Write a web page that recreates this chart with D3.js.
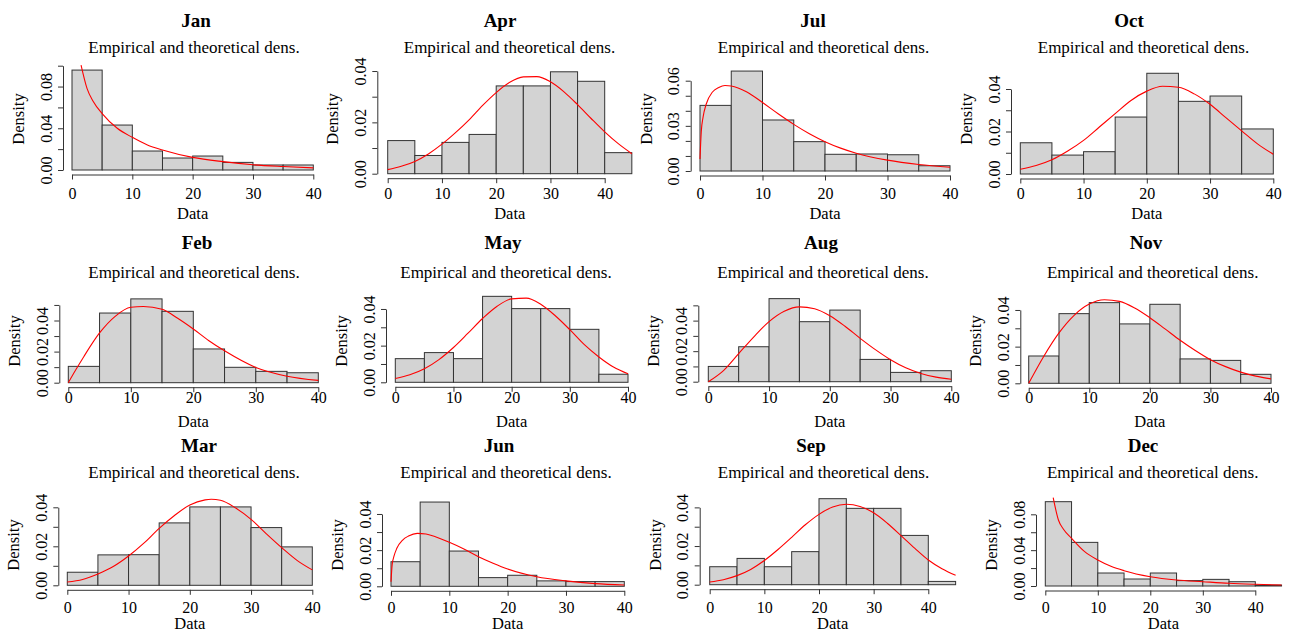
<!DOCTYPE html>
<html>
<head>
<meta charset="utf-8">
<script src="https://cdn.jsdelivr.net/npm/d3@7"></script>
<style>
  body { margin: 0; background: #fff; }
  svg text { font-family: "Liberation Serif", "Times New Roman", serif; fill: #000; }
</style>
</head>
<body>
<div id="chart"></div>
<script>
// months, laid out column by column (Jan Feb Mar | Apr May Jun | ...)
var months = ["Jan", "Feb", "Mar", "Apr", "May", "Jun", "Jul", "Aug", "Sep", "Oct", "Nov", "Dec"];
var breaks = [0, 5, 10, 15, 20, 25, 30, 35, 40, 45];
var xTicks = [0, 10, 20, 30, 40];

// histogram densities, one value per 5-wide bin
var densJan = [0.0958, 0.0431, 0.0182, 0.0115, 0.0134, 0.0073, 0.0048, 0.0048];
var densFeb = [0.0105, 0.0448, 0.0539, 0.0459, 0.0217, 0.0099, 0.0073, 0.0064];
var densMar = [0.0067, 0.0156, 0.0157, 0.0320, 0.0402, 0.0402, 0.0296, 0.0197];
var densApr = [0.0129, 0.0071, 0.0122, 0.0153, 0.0342, 0.0342, 0.0397, 0.0360, 0.0082];
var densMay = [0.0129, 0.0162, 0.0129, 0.0469, 0.0402, 0.0402, 0.0289, 0.0044];
var densJun = [0.0136, 0.0466, 0.0195, 0.0048, 0.0061, 0.0030, 0.0026, 0.0026];
var densJul = [0.0436, 0.0664, 0.0339, 0.0195, 0.0111, 0.0113, 0.0108, 0.0035];
var densAug = [0.0100, 0.0229, 0.0544, 0.0393, 0.0469, 0.0146, 0.0061, 0.0072];
var densSep = [0.0093, 0.0136, 0.0093, 0.0171, 0.0445, 0.0395, 0.0395, 0.0255, 0.0017];
var densOct = [0.0147, 0.0089, 0.0105, 0.0268, 0.0474, 0.0342, 0.0367, 0.0212];
var densNov = [0.0149, 0.0380, 0.0440, 0.0324, 0.0431, 0.0133, 0.0125, 0.0049];
var densDec = [0.0941, 0.0487, 0.0145, 0.0078, 0.0145, 0.0060, 0.0074, 0.0048, 0.0010];

// theoretical density curves, [x, density]
var curveJan = [[1.5, 0.1006], [2.5, 0.078], [3.5, 0.066], [5, 0.054], [7.5, 0.040], [10, 0.0313], [12.5, 0.024],
  [15, 0.0192], [20, 0.0121], [25, 0.008], [30, 0.005], [35, 0.0033], [40, 0.002]];
var curveFeb = [[0, 0], [1.2, 0.0083], [2.5, 0.0169], [5, 0.032], [7.5, 0.0427], [10, 0.0485], [12, 0.049],
  [15, 0.0472], [17.5, 0.0414], [20, 0.0345], [22.5, 0.027], [25, 0.0205], [30, 0.0098], [35, 0.0042], [40, 0.0015]];
var curveMar = [[0, 0.0017], [2.5, 0.003], [5, 0.0058], [7.5, 0.0096], [10, 0.015], [12.5, 0.0216], [15, 0.0292],
  [17.5, 0.0358], [20, 0.0412], [22.5, 0.0438], [23.5, 0.0441], [25, 0.0436], [27.5, 0.0396], [30, 0.0338],
  [32.5, 0.0264], [35, 0.0193], [37.5, 0.0128], [40, 0.0079]];
var curveApr = [[0, 0.0016], [2.5, 0.0029], [5, 0.0048], [7.5, 0.0077], [10, 0.0115], [12.5, 0.016], [15, 0.021],
  [17.5, 0.0266], [20, 0.0316], [22.5, 0.0356], [25, 0.0377], [27.5, 0.0378], [30, 0.0358], [32.5, 0.0319],
  [35, 0.0269], [37.5, 0.0215], [40, 0.0163], [42.5, 0.0117], [45, 0.0078]];
var curveMay = [[0, 0.0021], [2.5, 0.0041], [5, 0.0074], [7.5, 0.0124], [10, 0.019], [12.5, 0.0268], [15, 0.0348],
  [17.5, 0.0415], [20, 0.0455], [22.5, 0.0459], [25, 0.0426], [27.5, 0.0363], [30, 0.0287], [32.5, 0.0205],
  [35, 0.0138], [37.5, 0.0083], [40, 0.0046]];
var curveJun = [[0, 0.0025], [0.2, 0.012], [0.5, 0.0165], [1, 0.021], [2, 0.0256], [3, 0.0278], [4.5, 0.0293],
  [6, 0.0289], [7.5, 0.0275], [10, 0.0243], [12.5, 0.0206], [15, 0.0164], [17.5, 0.0128], [20, 0.0096],
  [25, 0.0053], [30, 0.003], [35, 0.0015], [40, 0.0007]];
var curveJul = [[0, 0.008], [0.2, 0.026], [0.5, 0.036], [1, 0.0445], [2, 0.0525], [3, 0.0555], [4, 0.0568],
  [5, 0.0565], [7.5, 0.0525], [10, 0.0455], [12.5, 0.038], [15, 0.031], [17.5, 0.0248], [20, 0.0195],
  [22.5, 0.0152], [25, 0.0118], [30, 0.0072], [35, 0.0043], [40, 0.0025]];
var curveAug = [[0, 0], [2.5, 0.0073], [5, 0.0184], [7.5, 0.0294], [10, 0.0393], [12.5, 0.0461], [15, 0.049],
  [17.5, 0.0478], [20, 0.0432], [22.5, 0.0363], [25, 0.0284], [27.5, 0.021], [30, 0.0144], [32.5, 0.0091],
  [35, 0.0054], [37.5, 0.003], [40, 0.0016]];
var curveSep = [[0, 0.0014], [2.5, 0.0026], [5, 0.0047], [7.5, 0.0079], [10, 0.0125], [12.5, 0.0182], [15, 0.0245],
  [17.5, 0.031], [20, 0.0364], [22.5, 0.0402], [25, 0.0416], [27.5, 0.0405], [30, 0.0372], [32.5, 0.0318],
  [35, 0.0254], [37.5, 0.0189], [40, 0.0128], [42.5, 0.0083], [45, 0.0049]];
var curveOct = [[0, 0.0022], [2.5, 0.004], [5, 0.0067], [7.5, 0.0108], [10, 0.0158], [12.5, 0.0221], [15, 0.0284],
  [17.5, 0.0346], [20, 0.039], [22.5, 0.0413], [25, 0.0408], [27.5, 0.0377], [30, 0.0328], [32.5, 0.0265],
  [35, 0.0203], [37.5, 0.0142], [40, 0.0093]];
var curveNov = [[0, 0], [2.5, 0.0148], [5, 0.0275], [7.5, 0.0371], [10, 0.0432], [12.5, 0.0456], [15, 0.0447],
  [17.5, 0.0411], [20, 0.0358], [22.5, 0.0297], [25, 0.0235], [27.5, 0.0179], [30, 0.0129], [32.5, 0.0091],
  [35, 0.0061], [37.5, 0.0039], [40, 0.0024]];
var curveDec = [[1.5, 0.0986], [2.5, 0.0737], [3.5, 0.063], [5, 0.0532], [7.5, 0.0383], [10, 0.029], [12.5, 0.022],
  [15, 0.0171], [20, 0.0104], [25, 0.0067], [30, 0.0048], [35, 0.003], [40, 0.0019], [45, 0.0011]];

// y ticks and which of them carry a label
var yTicksJan = [0, 0.02, 0.04, 0.06, 0.08, 0.10], yLabJan = [0, 0.04, 0.08];
var yTicksFeb = [0, 0.01, 0.02, 0.03, 0.04, 0.05], yLabFeb = [0, 0.02, 0.04];
var yTicksMar = [0, 0.01, 0.02, 0.03, 0.04], yLabMar = [0, 0.02, 0.04];
var yTicksApr = [0, 0.01, 0.02, 0.03, 0.04], yLabApr = [0, 0.02, 0.04];
var yTicksMay = [0, 0.01, 0.02, 0.03, 0.04], yLabMay = [0, 0.02, 0.04];
var yTicksJun = [0, 0.01, 0.02, 0.03, 0.04], yLabJun = [0, 0.02, 0.04];
var yTicksJul = [0, 0.01, 0.02, 0.03, 0.04, 0.05, 0.06], yLabJul = [0, 0.03, 0.06];
var yTicksAug = [0, 0.01, 0.02, 0.03, 0.04, 0.05], yLabAug = [0, 0.02, 0.04];
var yTicksSep = [0, 0.01, 0.02, 0.03, 0.04], yLabSep = [0, 0.02, 0.04];
var yTicksOct = [0, 0.01, 0.02, 0.03, 0.04], yLabOct = [0, 0.02, 0.04];
var yTicksNov = [0, 0.01, 0.02, 0.03, 0.04], yLabNov = [0, 0.02, 0.04];
var yTicksDec = [0, 0.02, 0.04, 0.06, 0.08], yLabDec = [0, 0.04, 0.08];

var dens = { Jan: densJan, Feb: densFeb, Mar: densMar, Apr: densApr, May: densMay, Jun: densJun,
  Jul: densJul, Aug: densAug, Sep: densSep, Oct: densOct, Nov: densNov, Dec: densDec };
var curves = { Jan: curveJan, Feb: curveFeb, Mar: curveMar, Apr: curveApr, May: curveMay, Jun: curveJun,
  Jul: curveJul, Aug: curveAug, Sep: curveSep, Oct: curveOct, Nov: curveNov, Dec: curveDec };
var yTicks = { Jan: yTicksJan, Feb: yTicksFeb, Mar: yTicksMar, Apr: yTicksApr, May: yTicksMay, Jun: yTicksJun,
  Jul: yTicksJul, Aug: yTicksAug, Sep: yTicksSep, Oct: yTicksOct, Nov: yTicksNov, Dec: yTicksDec };
var yLabs = { Jan: yLabJan, Feb: yLabFeb, Mar: yLabMar, Apr: yLabApr, May: yLabMay, Jun: yLabJun,
  Jul: yLabJul, Aug: yLabAug, Sep: yLabSep, Oct: yLabOct, Nov: yLabNov, Dec: yLabDec };

// panel geometry (pixels): where x=0 and x=40 sit, the y axis line, y=0 and px per 0.01,
// title centre, subtitle centre
var layout = {
  Jan: { x0: 72.0, x40: 313.3, ax: 63.0, y0: 170.0, p01: 10.43, tx: 196, sx: 194 },
  Feb: { x0: 68.3, x40: 318.3, ax: 59.3, y0: 382.7, p01: 15.55, tx: 197, sx: 194 },
  Mar: { x0: 67.3, x40: 312.3, ax: 58.3, y0: 585.3, p01: 19.5, tx: 199, sx: 194 },
  Apr: { x0: 387.7, x40: 604.7, ax: 377.3, y0: 173.7, p01: 25.67, tx: 500, sx: 509.5 },
  May: { x0: 395.3, x40: 628.0, ax: 386.0, y0: 382.3, p01: 18.33, tx: 503, sx: 506 },
  Jun: { x0: 391.0, x40: 624.3, ax: 382.0, y0: 586.3, p01: 18.08, tx: 499, sx: 506 },
  Jul: { x0: 700.0, x40: 950.0, ax: 690.7, y0: 171.0, p01: 15.05, tx: 813, sx: 823.5 },
  Aug: { x0: 708.3, x40: 951.3, ax: 698.3, y0: 381.7, p01: 15.27, tx: 821, sx: 823 },
  Sep: { x0: 709.7, x40: 928.3, ax: 699.7, y0: 584.7, p01: 19.33, tx: 811, sx: 823.5 },
  Oct: { x0: 1020.3, x40: 1273.3, ax: 1011.0, y0: 174.0, p01: 21.25, tx: 1129, sx: 1143.5 },
  Nov: { x0: 1028.7, x40: 1271.0, ax: 1020.3, y0: 383.3, p01: 18.33, tx: 1146, sx: 1152.7 },
  Dec: { x0: 1045.3, x40: 1255.3, ax: 1036.0, y0: 586.0, p01: 8.96, tx: 1143, sx: 1152.7 }
};
// per row: title / subtitle / tick label / "Data" baselines, centre of "Density"
var rows = [
  { title: 26.7, sub: 52.7, tickLab: 199.3, xlab: 219, ylab: 119 },
  { title: 249.3, sub: 277.7, tickLab: 402.7, xlab: 427, ylab: 341 },
  { title: 452.3, sub: 478.3, tickLab: 613.3, xlab: 629, ylab: 545 }
];

var svg = d3.select("#chart").append("svg")
  .attr("width", 1290)
  .attr("height", 632);

months.forEach(function (m, i) {
  var L = layout[m];
  var R = rows[i % 3];
  var d = dens[m];
  var ticks = yTicks[m];
  var labs = yLabs[m];
  var yTop = d3.max(ticks);

  var x = d3.scaleLinear().domain([0, 40]).range([L.x0, L.x40]);
  var y = d3.scaleLinear().domain([0, yTop]).range([L.y0, L.y0 - yTop * 100 * L.p01]);

  var g = svg.append("g").attr("class", "panel");

  // histogram
  g.selectAll(".bar")
    .data(d)
    .join("rect")
    .attr("class", "bar")
    .attr("x", function (v, j) { return x(breaks[j]); })
    .attr("width", function (v, j) { return x(breaks[j + 1]) - x(breaks[j]); })
    .attr("y", function (v) { return y(v); })
    .attr("height", function (v) { return y(0) - y(v); })
    .attr("fill", "#d3d3d3")
    .attr("stroke", "#333")
    .attr("stroke-width", 1);

  // theoretical density
  var line = d3.line()
    .x(function (p) { return x(p[0]); })
    .y(function (p) { return y(p[1]); })
    .curve(d3.curveMonotoneX);
  g.append("path")
    .datum(curves[m])
    .attr("d", line)
    .attr("fill", "none")
    .attr("stroke", "#ff0000")
    .attr("stroke-width", 1.1);

  // x axis
  var axisY = L.y0 + 4.5;
  var xg = g.append("g")
    .attr("transform", "translate(0," + axisY + ")")
    .call(d3.axisBottom(x).tickValues(xTicks).tickSize(5).tickSizeOuter(0).tickFormat(d3.format("d")));
  xg.selectAll("text")
    .attr("y", R.tickLab - axisY)
    .attr("dy", null)
    .attr("font-size", 16)
    .attr("font-family", null);

  // y axis
  var yg = g.append("g")
    .attr("transform", "translate(" + L.ax + ",0)")
    .call(d3.axisLeft(y).tickValues(ticks).tickSize(5).tickSizeOuter(0)
      .tickFormat(function (v) {
        return labs.some(function (l) { return Math.abs(l - v) < 1e-9; }) ? d3.format(".2f")(v) : "";
      }));
  yg.selectAll("text")
    .attr("x", 0)
    .attr("y", 0)
    .attr("dy", null)
    .attr("text-anchor", "middle")
    .attr("transform", "translate(-11.5,0) rotate(-90)")
    .attr("font-size", 16)
    .attr("font-family", null);

  g.selectAll(".domain, .tick line").attr("stroke", "#333");

  // texts
  g.append("text")
    .attr("x", L.tx)
    .attr("y", R.title)
    .attr("text-anchor", "middle")
    .attr("font-size", 19)
    .attr("font-weight", "bold")
    .text(m);

  g.append("text")
    .attr("x", L.sx)
    .attr("y", R.sub)
    .attr("text-anchor", "middle")
    .attr("font-size", 17)
    .text("Empirical and theoretical dens.");

  var xEnd = d[d.length - 1] !== undefined && d.length > 8 ? 45 : 40;
  g.append("text")
    .attr("x", (x(0) + x(xEnd)) / 2)
    .attr("y", R.xlab)
    .attr("text-anchor", "middle")
    .attr("font-size", 16.5)
    .text("Data");

  g.append("text")
    .attr("transform", "translate(" + (L.ax - 39) + "," + R.ylab + ") rotate(-90)")
    .attr("text-anchor", "middle")
    .attr("font-size", 16.5)
    .text("Density");
});
</script>
</body>
</html>
